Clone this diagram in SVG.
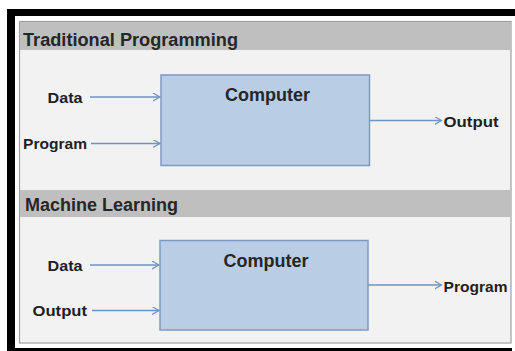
<svg xmlns="http://www.w3.org/2000/svg" width="515" height="351" viewBox="0 0 515 351">
  <style>
    .hdr { font-family: "Liberation Sans", Arial, sans-serif; font-weight: bold; font-size: 18px; fill: #262626; }
    .lbl { font-family: "Liberation Sans", Arial, sans-serif; font-weight: bold; font-size: 15px; fill: #1f1f1f; }
    .box { fill: #b9cde5; stroke: #7f9ac2; stroke-width: 1.5; }
    .conn { stroke: #6f93c9; stroke-width: 1.3; fill: none; marker-end: url(#arr); }
  </style>
  <defs>
    <marker id="arr" markerUnits="userSpaceOnUse" markerWidth="10" markerHeight="10" refX="7" refY="4" orient="auto">
      <path d="M0,0 L7,4 L0,8" fill="none" stroke="#6f93c9" stroke-width="1.2"/>
    </marker>
  </defs>
  <rect x="0" y="0" width="515" height="351" fill="#ffffff"/>
  <g id="frame">
    <rect x="7" y="9" width="508" height="7" fill="#000"/>
    <rect x="7" y="9" width="8" height="342" fill="#000"/>
    <rect x="7" y="348" width="505" height="3" fill="#000"/>
    <rect x="19.5" y="21.5" width="491.5" height="321.5" fill="#f2f2f2" stroke="#a0a0a0" stroke-width="1.2"/>
    <rect x="20" y="22" width="490.5" height="28" fill="#bfbfbf"/>
    <rect x="20" y="190" width="490.5" height="27" fill="#bfbfbf"/>
  </g>
  <g id="header-traditional">
    <text class="hdr" x="23" y="45.5" textLength="215" lengthAdjust="spacingAndGlyphs">Traditional Programming</text>
  </g>
  <g id="header-ml">
    <text class="hdr" x="25" y="211" textLength="153" lengthAdjust="spacingAndGlyphs">Machine Learning</text>
  </g>
  <g id="computer1">
    <rect class="box" x="161" y="75" width="208.5" height="90.5"/>
    <text class="hdr" x="267.5" y="101" text-anchor="middle">Computer</text>
  </g>
  <g id="computer2">
    <rect class="box" x="160" y="240.5" width="208" height="89.5"/>
    <text class="hdr" x="266" y="266.5" text-anchor="middle">Computer</text>
  </g>
  <g id="data1"><text class="lbl" x="47.5" y="102.5" textLength="35" lengthAdjust="spacingAndGlyphs">Data</text></g>
  <g id="program1"><text class="lbl" x="23" y="149" textLength="64" lengthAdjust="spacingAndGlyphs">Program</text></g>
  <g id="output1"><text class="lbl" x="443.5" y="126.5" textLength="55" lengthAdjust="spacingAndGlyphs">Output</text></g>
  <g id="data2"><text class="lbl" x="47.5" y="270.5" textLength="35" lengthAdjust="spacingAndGlyphs">Data</text></g>
  <g id="output2"><text class="lbl" x="32.5" y="316" textLength="54.5" lengthAdjust="spacingAndGlyphs">Output</text></g>
  <g id="program2"><text class="lbl" x="443.5" y="292" textLength="64" lengthAdjust="spacingAndGlyphs">Program</text></g>
  <g id="connectors">
    <line class="conn" x1="90" y1="97" x2="160" y2="97"/>
    <line class="conn" x1="91" y1="143.5" x2="160" y2="143.5"/>
    <line class="conn" x1="369.5" y1="120.5" x2="441.5" y2="120.5"/>
    <line class="conn" x1="90" y1="265" x2="159" y2="265"/>
    <line class="conn" x1="92" y1="310.5" x2="159" y2="310.5"/>
    <line class="conn" x1="368" y1="285" x2="441.5" y2="285"/>
  </g>
</svg>
